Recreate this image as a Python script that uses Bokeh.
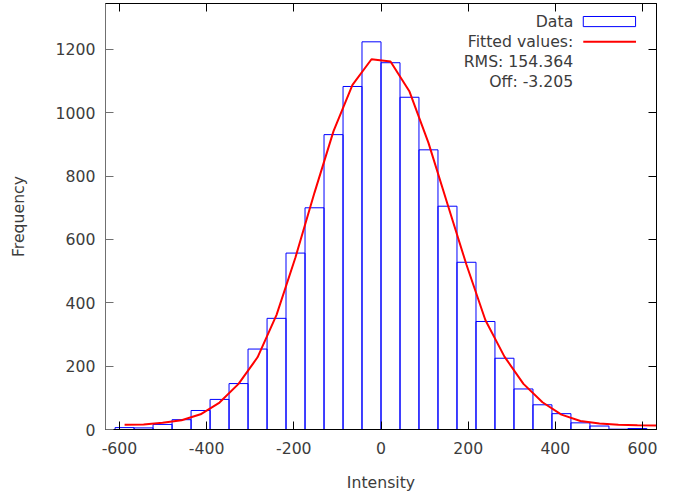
from bokeh.plotting import figure
from bokeh.models import Range1d, LinearAxis, FixedTicker, Label, BoxAnnotation
from bokeh.embed import file_html
from bokeh.resources import INLINE

# ---- data ----
bin_edges = [-610.0, -566.4, -522.9, -479.3, -435.7, -392.1, -348.6, -305.0,
             -261.4, -217.9, -174.3, -130.7, -87.1, -43.6, 0.0, 43.6, 87.1,
             130.7, 174.3, 217.9, 261.4, 305.0, 348.6, 392.1, 435.7, 479.3,
             522.9, 566.4, 610.0]
counts = [6, 5, 16, 31, 60, 95, 145, 254, 351, 557, 700, 931, 1083, 1224,
          1158, 1049, 883, 705, 528, 341, 225, 128, 78, 50, 21, 11, 1, 3]

fit_x = [-588.2, -544.6, -501.1, -457.5, -413.9, -370.4, -326.8, -283.2,
         -239.6, -196.1, -152.5, -108.9, -65.4, -21.8, 21.8, 65.4, 108.9,
         152.5, 196.1, 239.6, 283.2, 326.8, 370.4, 413.9, 457.5, 501.1,
         544.6, 588.2, 632.0]
fit_y = [15, 16, 21, 29, 48, 85, 144, 228, 362, 544, 748, 942, 1088, 1169,
         1162, 1067, 905, 712, 520, 345, 230, 144, 86, 47, 27, 19, 15, 13.5,
         12.5]

x_ticks = [-600, -400, -200, 0, 200, 400, 600]
x_tick_labels = ["-600", "-400", "-200", "0", "200", "400", "600"]
y_ticks = [0, 200, 400, 600, 800, 1000, 1200]
legend_texts = ["Data", "Fitted values:", "RMS: 154.364", "Off: -3.205"]

FONT = "DejaVu Sans"
FS = "15.7px"
TXT = "#3c3c3c"

p = figure(frame_width=551, frame_height=426,
           x_range=Range1d(-632, 632), y_range=Range1d(0, 1345),
           output_backend="svg", toolbar_location=None,
           min_border_left=105, min_border_right=10, min_border_top=3,
           min_border_bottom=58,
           x_axis_label="Intensity", y_axis_label="Frequency")
p.grid.visible = False
p.outline_line_color = "black"
p.outline_line_width = 1
p.background_fill_color = "white"
p.border_fill_color = "white"

for ax, ticks in ((p.xaxis[0], x_ticks), (p.yaxis[0], y_ticks)):
    ax.ticker = FixedTicker(ticks=ticks)
    ax.major_tick_in = 8
    ax.major_tick_out = 0
    ax.minor_tick_line_color = None
    ax.major_label_text_font = FONT
    ax.major_label_text_font_size = FS
    ax.major_label_text_color = TXT
    ax.axis_label_text_font = FONT
    ax.axis_label_text_font_size = FS
    ax.axis_label_text_font_style = "normal"
    ax.axis_label_text_color = TXT
p.xaxis[0].major_label_overrides = {float(t): s for t, s in zip(x_ticks, x_tick_labels)}
p.xaxis[0].axis_line_color = "black"
p.xaxis[0].major_tick_line_color = "black"
p.xaxis[0].major_label_standoff = 12
p.xaxis[0].axis_label_standoff = 16
p.yaxis[0].axis_line_color = "#707070"
p.yaxis[0].major_tick_line_color = "#707070"
p.yaxis[0].major_label_standoff = 10
p.yaxis[0].axis_label_standoff = 25

for loc, ticks in (("above", x_ticks), ("right", y_ticks)):
    a = LinearAxis(ticker=FixedTicker(ticks=ticks))
    a.major_tick_in = 8
    a.major_tick_out = 0
    a.minor_tick_line_color = None
    a.major_label_overrides = {float(t): "" for t in ticks}
    a.major_label_text_font_size = "1px"
    a.major_label_standoff = 0
    a.axis_line_color = "black"
    a.major_tick_line_color = "black"
    p.add_layout(a, loc)

p.quad(left=bin_edges[:-1], right=bin_edges[1:], bottom=0, top=counts,
       fill_color=None, line_color="#0000ff", line_width=1)
p.line(fit_x, fit_y, line_color="#ff0000", line_width=2)

# legend (gnuplot style: text on the left, sample on the right)
rows_y = [1288, 1225, 1162, 1099]
for t, yy in zip(legend_texts, rows_y):
    p.add_layout(Label(x=441, y=yy, text=t, text_align="right",
                       text_baseline="middle", text_font=FONT,
                       text_font_size=FS, text_color=TXT))
p.add_layout(BoxAnnotation(left=464, right=584, bottom=1272, top=1304,
                           fill_color=None, fill_alpha=0,
                           line_color="#0000ff", line_width=1, line_alpha=1))
p.add_layout(BoxAnnotation(left=464, right=585, bottom=1221, top=1227.5,
                           fill_color="#ff0000", fill_alpha=1,
                           line_color=None))

open("out.html", "w").write(file_html(p, INLINE))
